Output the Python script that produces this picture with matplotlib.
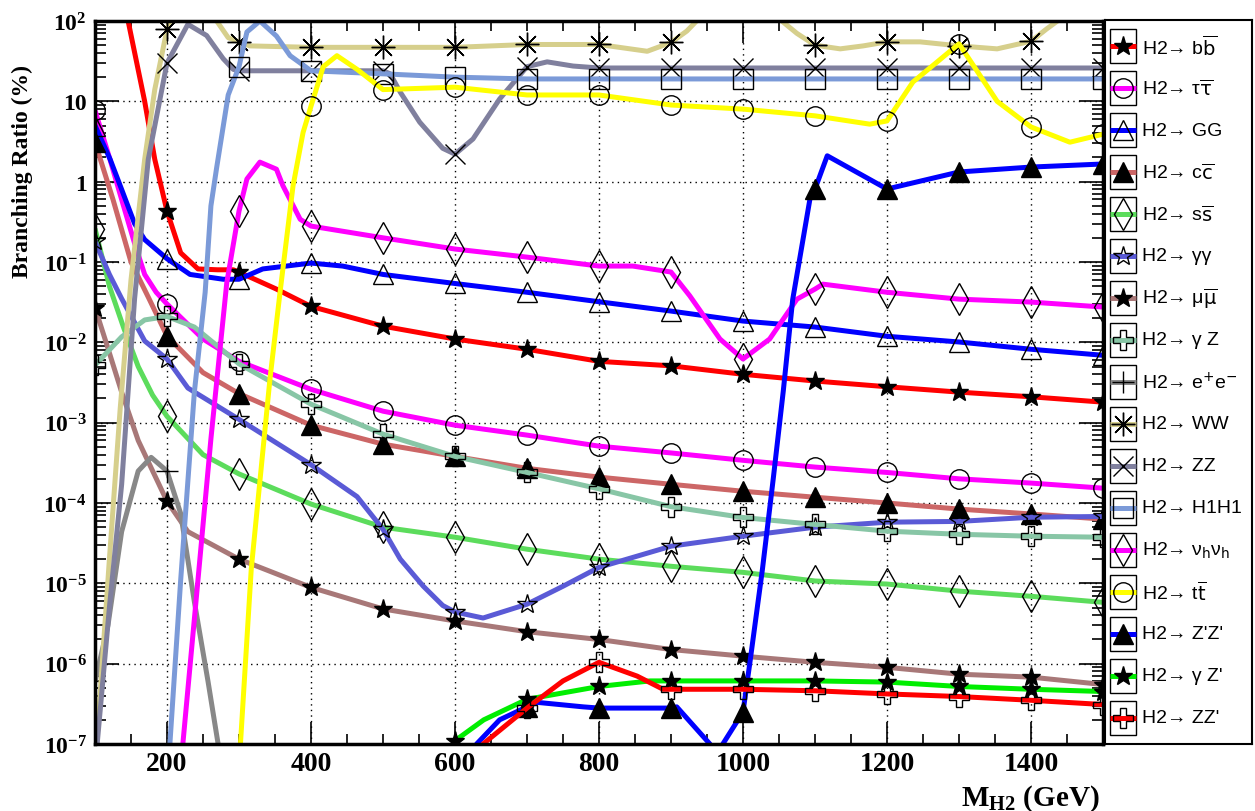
import numpy as np
import matplotlib
matplotlib.use('Agg')
import matplotlib.pyplot as plt
from matplotlib.patches import Rectangle
from matplotlib.ticker import FixedLocator, NullFormatter

plt.rcParams['mathtext.fontset'] = 'custom'
plt.rcParams['mathtext.rm'] = 'Liberation Serif:bold'
plt.rcParams['mathtext.it'] = 'Liberation Serif:italic:bold'
plt.rcParams['mathtext.bf'] = 'Liberation Serif:bold'

# branching ratios (%), x = M_H2 in GeV
bb_x = [100, 146, 169, 183, 200, 219, 243, 270, 292, 300, 315, 352, 400, 500, 600, 700, 800, 900, 1000, 1100, 1200, 1300, 1400, 1500]
bb_y = [2000, 100, 10, 1.9, 0.43, 0.13, 0.082, 0.08, 0.08, 0.075, 0.065, 0.046, 0.028, 0.0159, 0.011, 0.0082, 0.0058, 0.0051, 0.0040, 0.0033, 0.0028, 0.0024, 0.0021, 0.0018]

tau_x = [100, 120, 137, 155, 169, 185, 200, 250, 300, 400, 500, 600, 700, 800, 900, 1000, 1100, 1200, 1300, 1400, 1500]
tau_y = [7.7, 2.0, 0.6, 0.17, 0.07, 0.042, 0.03, 0.011, 0.0058, 0.0026, 0.00139, 0.00093, 0.0007, 0.00051, 0.00042, 0.00034, 0.00028, 0.00024, 0.0002, 0.000177, 0.000153]

gg_x = [100, 121, 137, 155, 169, 200, 232, 278, 300, 333, 400, 444, 500, 600, 700, 800, 900, 1000, 1100, 1200, 1300, 1400, 1500]
gg_y = [5, 1.9, 0.8, 0.3, 0.19, 0.11, 0.07, 0.061, 0.061, 0.082, 0.097, 0.089, 0.07, 0.054, 0.042, 0.032, 0.0245, 0.0184, 0.0155, 0.0119, 0.0101, 0.0082, 0.0069]

cc_x = [100, 125, 150, 175, 200, 250, 300, 400, 500, 600, 700, 800, 900, 1000, 1100, 1200, 1300, 1400, 1500]
cc_y = [3.1, 0.6, 0.1, 0.035, 0.012, 0.0042, 0.0023, 0.00093, 0.00054, 0.00038, 0.00027, 0.00021, 0.000171, 0.00014, 0.000118, 0.0001, 0.000084, 0.000073, 0.000063]

ss_x = [100, 120, 140, 160, 180, 200, 250, 300, 400, 500, 600, 700, 800, 900, 1000, 1100, 1200, 1300, 1400, 1500]
ss_y = [0.26, 0.05, 0.015, 0.005, 0.0022, 0.0012, 0.0004, 0.00023, 9.7e-5, 5.0e-5, 3.75e-5, 2.66e-5, 2.0e-5, 1.63e-5, 1.37e-5, 1.07e-5, 9.8e-6, 8.0e-6, 6.9e-6, 5.8e-6]

aa_x = [100, 120, 137, 169, 200, 229, 300, 400, 464, 500, 524, 556, 583, 600, 639, 700, 750, 800, 900, 1000, 1100, 1200, 1300, 1400, 1500]
aa_y = [0.18, 0.07, 0.035, 0.0104, 0.0062, 0.0027, 0.0011, 0.0003, 0.00012, 4.7e-5, 2.0e-5, 9.2e-6, 5.3e-6, 4.4e-6, 3.7e-6, 5.5e-6, 9.2e-6, 1.58e-5, 2.9e-5, 3.86e-5, 5.0e-5, 5.77e-5, 5.9e-5, 6.65e-5, 6.8e-5]

mu_x = [100, 117, 137, 160, 200, 229, 300, 400, 500, 600, 700, 800, 900, 1000, 1100, 1200, 1300, 1400, 1500]
mu_y = [0.027, 0.009, 0.0024, 0.0006, 0.000105, 4.4e-5, 2.0e-5, 8.9e-6, 4.8e-6, 3.4e-6, 2.5e-6, 2.0e-6, 1.5e-6, 1.24e-6, 1.04e-6, 9.0e-7, 7.4e-7, 6.8e-7, 5.5e-7]

az_x = [100, 137, 169, 200, 238, 300, 400, 500, 600, 700, 800, 900, 1000, 1100, 1200, 1300, 1400, 1500]
az_y = [0.0052, 0.0117, 0.019, 0.021, 0.0155, 0.0054, 0.0017, 0.00072, 0.00038, 0.00024, 0.00015, 9.0e-5, 6.6e-5, 5.4e-5, 4.46e-5, 4.08e-5, 3.86e-5, 3.75e-5]

ee_x = [100, 118, 137, 160, 178, 200, 219, 238, 257, 271, 290]
ee_y = [6e-7, 3e-6, 4.4e-5, 2.5e-4, 3.7e-4, 2.5e-4, 7.4e-5, 5.9e-6, 6e-7, 1e-7, 1e-8]

ww_x = [100, 120, 135, 150, 169, 183, 200, 215, 250, 269, 285, 300, 315, 400, 500, 600, 700, 800, 867, 900, 922, 940, 960, 1030, 1051, 1075, 1100, 1135, 1167, 1200, 1246, 1300, 1353, 1400, 1422, 1440, 1470, 1500]
ww_y = [5e-8, 2e-5, 1.5e-3, 0.06, 1.9, 14, 79, 180, 180, 100, 62, 55, 49, 47, 47, 47, 51, 51, 42, 54, 75, 110, 180, 180, 105, 70, 50, 45, 49, 55, 55, 49, 45, 56, 80, 105, 180, 250]

zz_x = [100, 120, 137, 155, 174, 200, 229, 255, 278, 292, 300, 400, 500, 510, 524, 551, 583, 600, 625, 662, 700, 728, 764, 800, 900, 1000, 1100, 1200, 1300, 1400, 1500]
zz_y = [5e-8, 5e-6, 1.7e-4, 0.035, 1.9, 30, 91, 66, 34, 25, 24, 24, 24, 22, 13, 5.5, 2.6, 2.2, 3.4, 10.7, 27, 31, 27.5, 26, 26, 26, 26, 26, 26, 26, 26]

hh_x = [195, 204, 219, 238, 253, 261, 269, 285, 300, 311, 329, 352, 371, 400, 500, 600, 700, 800, 900, 1000, 1100, 1200, 1300, 1400, 1500]
hh_y = [1e-8, 1e-7, 1.1e-5, 2.4e-3, 0.042, 0.5, 1.5, 12, 27, 73, 100, 65, 37, 24, 22, 20, 19, 19, 19, 19, 19, 19, 19, 19, 19]

nn_x = [210, 222, 243, 261, 283, 300, 311, 329, 352, 361, 385, 400, 500, 600, 700, 800, 847, 900, 926, 968, 1000, 1037, 1075, 1100, 1111, 1200, 1300, 1400, 1500]
nn_y = [5e-9, 1e-7, 1.1e-5, 6.3e-4, 0.055, 0.43, 1.08, 1.75, 1.43, 0.89, 0.34, 0.28, 0.2, 0.145, 0.115, 0.089, 0.089, 0.075, 0.038, 0.011, 0.0062, 0.011, 0.0345, 0.046, 0.053, 0.042, 0.0345, 0.0317, 0.0275]

tt_x = [290, 302, 317, 343, 357, 375, 389, 400, 417, 436, 464, 500, 600, 700, 800, 900, 1000, 1100, 1176, 1200, 1236, 1300, 1353, 1400, 1454, 1500]
tt_y = [1e-9, 1e-7, 1.5e-5, 0.0035, 0.042, 0.88, 4.1, 8.7, 27, 37, 25, 14, 15, 12, 12, 9, 8, 6.6, 5.2, 5.7, 17.4, 52, 10, 4.8, 3.1, 3.9]

zpzp_x = [600, 630, 662, 700, 714, 778, 800, 900, 908, 954, 963, 972, 1000, 1010, 1027, 1042, 1056, 1069, 1093, 1100, 1117, 1200, 1300, 1400, 1500]
zpzp_y = [1e-8, 1e-7, 2e-7, 2.9e-7, 3.3e-7, 2.9e-7, 2.8e-7, 2.8e-7, 2.9e-7, 1e-7, 5e-8, 1e-7, 2.5e-7, 1.1e-6, 1.5e-5, 2e-4, 2.5e-3, 0.034, 0.61, 0.81, 2.1, 0.81, 1.32, 1.52, 1.66]

azp_x = [600, 640, 700, 800, 871, 900, 1000, 1100, 1200, 1300, 1400, 1500]
azp_y = [1.1e-7, 2.0e-7, 3.6e-7, 5.2e-7, 6.1e-7, 6.1e-7, 6.1e-7, 6.1e-7, 5.9e-7, 5.2e-7, 4.8e-7, 4.5e-7]

zzp_x = [600, 639, 700, 750, 800, 853, 889, 900, 1000, 1100, 1200, 1300, 1400, 1500]
zzp_y = [1e-8, 1e-7, 2.8e-7, 6.1e-7, 1.04e-6, 7e-7, 4.8e-7, 4.8e-7, 4.8e-7, 4.6e-7, 4.2e-7, 3.9e-7, 3.5e-7, 3.1e-7]

labels = ['H2\u2192 b$\\overline{\\mathrm{b}}$', 'H2\u2192 \u03c4$\\overline{\\mathrm{\u03c4}}$', 'H2\u2192 GG',
          'H2\u2192 c$\\overline{\\mathrm{c}}$', 'H2\u2192 s$\\overline{\\mathrm{s}}$', 'H2\u2192 \u03b3\u03b3',
          'H2\u2192 \u03bc$\\overline{\\mathrm{\u03bc}}$', 'H2\u2192 \u03b3 Z', 'H2\u2192 e$^{+}$e$^{-}$',
          'H2\u2192 WW', 'H2\u2192 ZZ', 'H2\u2192 H1H1', 'H2\u2192 \u03bd$_{\\mathrm{h}}$\u03bd$_{\\mathrm{h}}$',
          'H2\u2192 t$\\overline{\\mathrm{t}}$', "H2\u2192 Z'Z'", "H2\u2192 \u03b3 Z'", "H2\u2192 ZZ'"]
xs = [bb_x, tau_x, gg_x, cc_x, ss_x, aa_x, mu_x, az_x, ee_x, ww_x, zz_x, hh_x, nn_x, tt_x, zpzp_x, azp_x, zzp_x]
ys = [bb_y, tau_y, gg_y, cc_y, ss_y, aa_y, mu_y, az_y, ee_y, ww_y, zz_y, hh_y, nn_y, tt_y, zpzp_y, azp_y, zzp_y]
colors = ['#ff0000', '#ff00ff', '#0000ff', '#cc6666', '#5cdc5c', '#5a5ad6', '#a87878', '#88c6a6', '#888888',
          '#d6cf8c', '#80809e', '#7b9ad8', '#ff00ff', '#ffff00', '#0000ff', '#00ee00', '#ff0000']
# (marker, filled, size)
markers = [('*', True, 14), ('o', False, 14), ('^', False, 15), ('^', True, 15), ('d', False, 16), ('*', False, 15),
           ('*', True, 14), ('P', False, 15), ('+', False, 16), ((8, 2, 0), False, 17), ('x', False, 14),
           ('s', False, 15), ('d', False, 16), ('o', False, 14), ('^', True, 15), ('*', True, 14), ('P', False, 15)]

fig = plt.figure(figsize=(12.55, 8.12), dpi=100)
ax = fig.add_axes([95 / 1255, 1 - 745 / 812, 1008 / 1255, 723 / 812])

for i in range(len(xs)):
    x = np.array(xs[i], dtype=float)
    y = np.array(ys[i], dtype=float)
    m, filled, ms = markers[i]
    every = list(x % 100 == 0)
    ax.plot(x, y, color=colors[i], lw=3.6, marker=m, markevery=every, ms=ms,
            mfc='k' if filled else 'none', mec='k', mew=1.0, zorder=3 + i, solid_capstyle='butt')

ax.set_yscale('log')
ax.set_xlim(100, 1500)
ax.set_ylim(1e-7, 1e2)

ax.xaxis.set_major_locator(FixedLocator([200, 400, 600, 800, 1000, 1200, 1400]))
ax.xaxis.set_minor_locator(FixedLocator(np.arange(150, 1500, 50)))
ax.set_xticklabels(['200', '400', '600', '800', '1000', '1200', '1400'],
                   fontsize=20, fontweight='bold', family='Liberation Serif')

yt = [1e-7, 1e-6, 1e-5, 1e-4, 1e-3, 1e-2, 1e-1, 1, 10, 100]
ytl = [r'$10^{-7}$', r'$10^{-6}$', r'$10^{-5}$', r'$10^{-4}$', r'$10^{-3}$', r'$10^{-2}$', r'$10^{-1}$', '1', '10', r'$10^{2}$']
ax.yaxis.set_major_locator(FixedLocator(yt))
ax.yaxis.set_minor_locator(FixedLocator([k * 10.0 ** e for e in range(-7, 2) for k in range(2, 10)]))
ax.yaxis.set_minor_formatter(NullFormatter())
ax.set_yticklabels(ytl, fontsize=17, fontweight='bold', family='Liberation Serif')

ax.tick_params(which='both', direction='in', top=True, right=True, width=1.2, color='k')
ax.tick_params(axis='x', which='major', length=16, pad=5)
ax.tick_params(axis='x', which='minor', length=7)
ax.tick_params(axis='y', which='major', length=17, pad=6)
ax.tick_params(axis='y', which='minor', length=8)
ax.grid(True, which='major', ls=(0, (1, 3)), color='k', lw=1.0)
ax.set_axisbelow('line')
for sp in ax.spines.values():
    sp.set_linewidth(2.5)
    sp.set_zorder(30)

fig.text(1100 / 1255, 1 - 806 / 812, r'M$_{\mathrm{H2}}$ (GeV)', ha='right', va='baseline',
         fontsize=21, fontweight='bold', family='Liberation Serif')
fig.text(22 / 1255, 1 - 172 / 812, 'Branching Ratio (%)', rotation=90, ha='center', va='center',
         fontsize=17, fontweight='bold', family='Liberation Serif')

# legend
lg = fig.add_axes([1105 / 1255, 1 - 745 / 812, 147 / 1255, 724 / 812])
lg.set_xlim(0, 147)
lg.set_ylim(724, 0)
lg.set_xticks([])
lg.set_yticks([])
for sp in lg.spines.values():
    sp.set_linewidth(1.5)
for i in range(len(labels)):
    yc = 26 + 42 * i
    m, filled, ms = markers[i]
    lg.add_patch(Rectangle((5, yc - 17), 26, 34, fill=False, ec='k', lw=1.0))
    lg.plot([5, 31], [yc, yc], color=colors[i], lw=3.6, solid_capstyle='butt')
    lg.plot([18], [yc], marker=m, ms=ms, mfc='k' if filled else 'none', mec='k', mew=1.0, ls='none')
    lg.text(37, yc, labels[i], fontsize=14, family=['Liberation Sans', 'DejaVu Sans'], va='center', ha='left',
            math_fontfamily='dejavusans')

fig.savefig('out.png', dpi=100)
